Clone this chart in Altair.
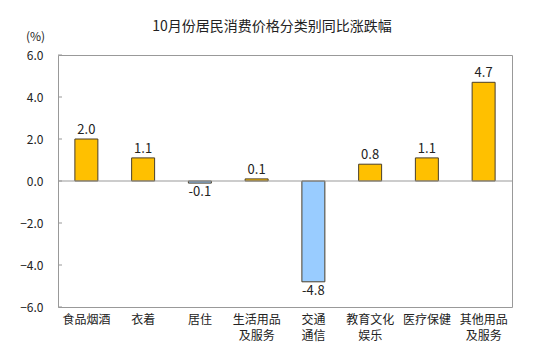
import altair as alt
import pandas as pd

categories = ["食品烟酒", "衣着", "居住", "生活用品\n及服务", "交通\n通信", "教育文化\n娱乐", "医疗保健", "其他用品\n及服务"]
values = [2.0, 1.1, -0.1, 0.1, -4.8, 0.8, 1.1, 4.7]
y_ticks = [-6, -4, -2, 0, 2, 4, 6]
title_text = ["10月份居民消费价格分类别同比涨跌幅"]

FONT = "Noto Sans CJK SC"

df = pd.DataFrame({"cat": categories, "val": values})
df["sign"] = ["pos" if v >= 0 else "neg" for v in values]
df["label"] = [f"{v:.1f}" for v in values]
ticks_df = pd.DataFrame({"t": y_ticks})

xenc = alt.X("cat:N", sort=categories, title=None,
             scale=alt.Scale(paddingInner=0.595, paddingOuter=0.2975),
             axis=alt.Axis(labelExpr="split(datum.label, '\\n')", labelAngle=0,
                           labelFont=FONT, labelFontSize=12, labelColor="#222",
                           labelPadding=7, labelLineHeight=16, ticks=False,
                           domain=False, labelBaseline="top"))
yscale = alt.Scale(domain=[-6, 6])

bars = alt.Chart(df).mark_bar(stroke="#4a3f2a", strokeWidth=1).encode(
    x=xenc,
    y=alt.Y("val:Q", scale=yscale,
            axis=alt.Axis(values=y_ticks, format=".1f", title="(%)", titleAngle=0,
                          titleX=-23, titleY=-12, titleAlign="center",
                          titleFont=FONT, titleFontSize=12, titleFontWeight="normal",
                          titleColor="#222",
                          labelFont=FONT, labelFontSize=12, labelColor="#222",
                          ticks=False, labelPadding=15, grid=False, domain=False)),
    y2=alt.datum(0),
    color=alt.Color("sign:N", scale=alt.Scale(domain=["pos", "neg"], range=["#FFC000", "#99CCFF"]), legend=None),
)

zero = alt.Chart(pd.DataFrame({"z": [0]})).mark_rule(color="#999", strokeWidth=1).encode(
    y=alt.Y("z:Q", scale=yscale)
)

tickmarks = alt.Chart(ticks_df).mark_rule(color="#999", strokeWidth=1).encode(
    y=alt.Y("t:Q", scale=yscale), x=alt.value(0), x2=alt.value(4)
)

pos_labels = alt.Chart(df).transform_filter("datum.val >= 0").mark_text(
    font=FONT, fontSize=13, color="#222", baseline="bottom", dy=-2
).encode(x=alt.X("cat:N", sort=categories), y=alt.Y("val:Q", scale=yscale), text="label:N")

neg_labels = alt.Chart(df).transform_filter("datum.val < 0").mark_text(
    font=FONT, fontSize=13, color="#222", baseline="top", dy=3
).encode(x=alt.X("cat:N", sort=categories), y=alt.Y("val:Q", scale=yscale), text="label:N")

title = alt.Chart(pd.DataFrame({"t": title_text})).mark_text(
    font=FONT, fontSize=14, color="#222", baseline="middle", align="center"
).encode(text="t:N", x=alt.value(214), y=alt.value(-28))

chart = alt.layer(bars, zero, tickmarks, pos_labels, neg_labels, title).properties(
    width=454, height=252,
    autosize=alt.AutoSizeParams(type="none"),
    padding={"left": 50, "top": 47, "right": 24, "bottom": 49},
).configure_view(stroke="#999", strokeWidth=1)

chart.save("out.html", embed_options={"renderer": "svg", "actions": False})
